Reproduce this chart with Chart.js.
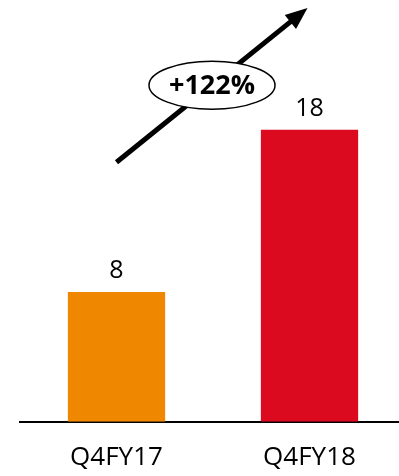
<!DOCTYPE html>
<html>
<head>
<meta charset="utf-8">
<script src="https://cdn.jsdelivr.net/npm/chart.js@4/dist/chart.umd.min.js"></script>
<style>
  html, body { margin: 0; padding: 0; background: #fff; overflow: hidden; }
  #wrap { width: 406px; height: 476px; position: relative; }
</style>
</head>
<body>
<div id="wrap"><canvas id="chart"></canvas></div>
<script>
// données
const categories = ["Q4FY17", "Q4FY18"]
const revenue = [8, 18]
const barColors = ["#EF8700", "#DC0A1E"]
const growthLabel = "+122%"
// début / fin de la flèche, en valeurs de l'axe y
const arrowFrom = 16
const arrowTo = 25.5

const FONT = "'Open Sans', 'Liberation Sans', sans-serif"

// étiquettes de valeur au-dessus des barres
const valueLabels = {
  id: "valueLabels",
  afterDatasetsDraw(chart) {
    const ctx = chart.ctx
    const meta = chart.getDatasetMeta(0)
    ctx.save()
    ctx.font = "25px " + FONT
    ctx.fillStyle = "#000"
    ctx.textAlign = "center"
    ctx.textBaseline = "middle"
    meta.data.forEach((bar, i) => {
      ctx.fillText(String(revenue[i]), bar.x, bar.y - 21)
    })
    ctx.restore()
  }
}

// flèche de croissance avec l'ellipse
const growthArrow = {
  id: "growthArrow",
  afterDraw(chart) {
    const ctx = chart.ctx
    const xs = chart.scales.x
    const ys = chart.scales.y
    const x1 = xs.getPixelForValue(0)
    const y1 = ys.getPixelForValue(arrowFrom)
    const x2 = xs.getPixelForValue(1) - 2
    const y2 = ys.getPixelForValue(arrowTo)
    const ang = Math.atan2(y2 - y1, x2 - x1)
    const head = 22
    ctx.save()
    ctx.strokeStyle = "#000"
    ctx.fillStyle = "#000"
    ctx.lineWidth = 5
    ctx.beginPath()
    ctx.moveTo(x1, y1)
    ctx.lineTo(x2 - head * 0.8 * Math.cos(ang), y2 - head * 0.8 * Math.sin(ang))
    ctx.stroke()
    ctx.beginPath()
    ctx.moveTo(x2, y2)
    ctx.lineTo(x2 - head * Math.cos(ang) + 9 * Math.sin(ang), y2 - head * Math.sin(ang) - 9 * Math.cos(ang))
    ctx.lineTo(x2 - head * Math.cos(ang) - 9 * Math.sin(ang), y2 - head * Math.sin(ang) + 9 * Math.cos(ang))
    ctx.closePath()
    ctx.fill()

    const cx = (x1 + x2) / 2
    const cy = (y1 + y2) / 2
    ctx.beginPath()
    ctx.ellipse(cx, cy, 63, 24, 0, 0, Math.PI * 2)
    ctx.fillStyle = "#fff"
    ctx.fill()
    ctx.lineWidth = 1.5
    ctx.stroke()
    ctx.fillStyle = "#000"
    ctx.font = "bold 27px " + FONT
    ctx.textAlign = "center"
    ctx.textBaseline = "middle"
    ctx.fillText(growthLabel, cx, cy + 1)
    ctx.restore()
  }
}

new Chart(document.getElementById("chart"), {
  type: "bar",
  data: {
    labels: categories,
    datasets: [{
      data: revenue,
      backgroundColor: barColors,
      borderWidth: 0,
      barPercentage: 0.6,
      categoryPercentage: 0.84
    }]
  },
  options: {
    responsive: true,
    maintainAspectRatio: false,
    animation: false,
    layout: { padding: { left: 20, right: 0, top: 0, bottom: -17 } },
    plugins: { legend: { display: false }, tooltip: { enabled: false } },
    scales: {
      x: {
        grid: { display: false, drawTicks: false },
        border: { display: true, color: "#000", width: 2 },
        ticks: { color: "#000", font: { size: 26, family: FONT }, padding: 20 }
      },
      y: {
        display: false,
        min: 0,
        max: 26
      }
    }
  },
  plugins: [valueLabels, growthArrow]
})
</script>
</body>
</html>
